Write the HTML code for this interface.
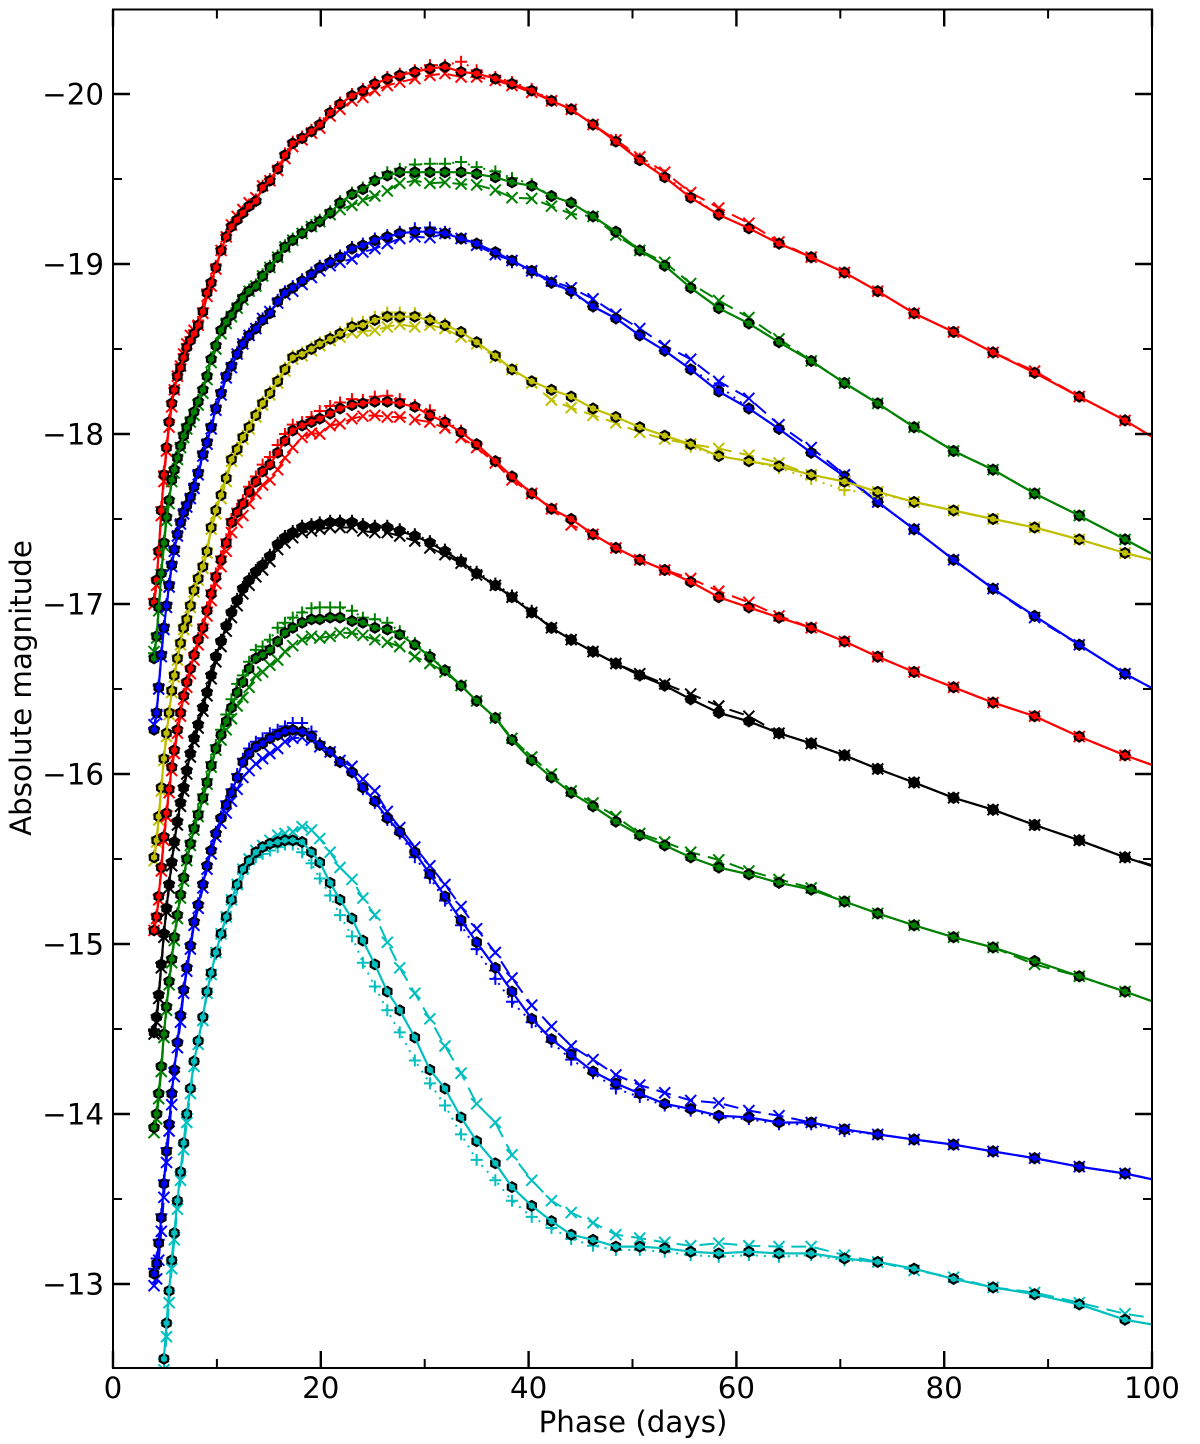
<!DOCTYPE html>
<html lang="en">
<head>
<meta charset="utf-8">
<title>Absolute magnitude light curves</title>
<style>
html,body{margin:0;padding:0;background:#fff;width:1200px;height:1444px;overflow:hidden}
svg{display:block}
text{font-family:"DejaVu Sans","Liberation Sans",sans-serif;fill:#000}
</style>
</head>
<body>
<svg id="chart" xmlns="http://www.w3.org/2000/svg" width="1200" height="1444" viewBox="0 0 1200 1444">
  <defs>
    <clipPath id="plot-clip"><rect x="113" y="9.5" width="1039" height="1358.5"/></clipPath>
  </defs>
  <rect x="0" y="0" width="1200" height="1444" fill="#fff"/>
  <g id="series" clip-path="url(#plot-clip)"></g>
  <g id="ticks"></g>
  <rect x="113" y="9.5" width="1039" height="1358.5" fill="none" stroke="#000" stroke-width="2"/>
  <text x="633" y="1432" font-size="29.3" text-anchor="middle">Phase (days)</text>
  <text transform="translate(31,688) rotate(-90)" font-size="29.3" text-anchor="middle">Absolute magnitude</text>
</svg>
<script>
const phases = [3.95,4.2,4.4,4.65,4.9,5.15,5.4,5.65,5.9,6.2,
6.5,6.8,7.1,7.45,7.8,8.2,8.65,9.05,9.45,9.9,
10.4,10.9,11.4,11.95,12.5,13.1,13.75,14.4,15.1,15.85,
16.55,17.3,18.2,19.1,19.9,20.9,21.85,23.0,24.05,25.2,
26.4,27.6,29.05,30.5,31.95,33.5,35.0,36.8,38.4,40.3,
42.2,44.1,46.2,48.4,50.7,53.1,55.6,58.3,61.2,64.1,
67.2,70.4,73.6,77.1,80.9,84.7,88.7,93.0,97.4,102];

const xTickValues = [0,20,40,60,80,100];
const xMinorValues = [10,30,50,70,90];
const yTickValues = [-20,-19,-18,-17,-16,-15,-14,-13];
const yMinorValues = [-19.5,-18.5,-17.5,-16.5,-15.5,-14.5,-13.5];

const redTopBase = [-17.01,-17.14,-17.31,-17.55,-17.76,-17.92,-18.07,-18.18,-18.26,-18.34,
-18.39,-18.45,-18.51,-18.55,-18.59,-18.64,-18.72,-18.83,-18.89,-18.98,
-19.08,-19.16,-19.22,-19.26,-19.30,-19.34,-19.37,-19.45,-19.49,-19.56,
-19.64,-19.71,-19.74,-19.78,-19.82,-19.89,-19.94,-19.99,-20.02,-20.06,
-20.09,-20.11,-20.13,-20.15,-20.16,-20.13,-20.12,-20.09,-20.06,-20.02,
-19.96,-19.91,-19.82,-19.72,-19.61,-19.51,-19.39,-19.29,-19.21,-19.12,
-19.04,-18.95,-18.84,-18.71,-18.60,-18.48,-18.36,-18.22,-18.08,-17.91];
const redTopCross = [0.01,0.03,0.02,0.03,0.04,0.02,0.03,0.02,0,0,
-0.01,-0.02,-0.02,-0.03,-0.02,0,0.01,0.02,0.02,0.01,
0,0,-0.01,-0.02,-0.02,-0.02,-0.02,-0.01,0,0.01,
0.02,0.02,0.01,0.01,0.02,0.02,0.03,0.03,0.04,0.04,
0.04,0.04,0.04,0.04,0.04,0.03,0.02,0.01,0.01,0.01,
0,0,0,-0.01,-0.02,-0.03,-0.03,-0.04,-0.03,-0.01,
0,0,0,0,0,0,-0.01,0,0,0];
const redTopPlus = [-0.02,-0.01,-0.01,-0.02,-0.02,-0.01,-0.01,-0.01,-0.01,-0.01,
-0.02,-0.02,-0.02,-0.02,-0.02,-0.02,-0.02,-0.02,-0.01,-0.01,
-0.01,-0.01,-0.01,-0.01,-0.01,-0.01,-0.01,-0.01,-0.01,-0.01,
-0.01,-0.01,-0.01,-0.01,-0.01,-0.01,-0.01,-0.01,-0.01,-0.01,
-0.01,-0.01,-0.01,-0.02,-0.01,-0.06,-0.02,-0.01,-0.01,-0.01,
0,0,0,-0.01,-0.01,-0.01,-0.01,0,0,0,
0,0,0,0,0,0,0,0,0,0];

const greenTopBase = [-16.68,-16.81,-16.98,-17.18,-17.36,-17.51,-17.61,-17.73,-17.79,-17.86,
-17.93,-17.99,-18.04,-18.08,-18.13,-18.19,-18.26,-18.34,-18.44,-18.52,
-18.61,-18.66,-18.70,-18.75,-18.80,-18.84,-18.87,-18.93,-18.98,-19.04,
-19.10,-19.14,-19.18,-19.22,-19.25,-19.30,-19.36,-19.41,-19.44,-19.49,
-19.52,-19.54,-19.54,-19.54,-19.54,-19.54,-19.53,-19.51,-19.48,-19.46,
-19.40,-19.36,-19.28,-19.19,-19.08,-18.99,-18.86,-18.74,-18.65,-18.54,
-18.43,-18.30,-18.18,-18.04,-17.90,-17.79,-17.65,-17.52,-17.38,-17.23];
const greenTopCross = [-0.04,0.01,0.02,0.03,0.02,0.02,0.02,0.01,0.02,0.01,
0.01,0.01,0.01,0.01,0.02,0.02,0.02,0.02,0.02,0.02,
0.02,0.01,0.01,0.01,0.01,0,0,0,0,0,
0,0,0,0,0,0.01,0.04,0.065,0.065,0.09,
0.09,0.065,0.05,0.065,0.06,0.07,0.065,0.075,0.09,0.075,
0.06,0.065,0,0.02,0,-0.02,-0.025,-0.045,-0.035,-0.02,
0,0,0,0,0,0,0,0,0,0];
const greenTopPlus = [-0.03,-0.01,-0.01,-0.02,-0.01,-0.01,-0.01,-0.01,-0.01,-0.01,
-0.01,-0.01,-0.01,-0.01,-0.01,-0.01,-0.01,-0.01,-0.01,-0.01,
-0.01,-0.01,-0.01,-0.01,-0.01,-0.01,-0.01,-0.01,-0.01,-0.01,
-0.01,-0.01,-0.01,-0.01,-0.01,-0.01,-0.01,-0.01,-0.01,-0.015,
-0.02,-0.02,-0.045,-0.05,-0.05,-0.06,-0.04,-0.035,-0.025,-0.01,
0,0,0,0,0,0,0,0,0,0,
0,0,0,0,0,0,0,0,0,0];

const blueTopBase = [-16.26,-16.36,-16.51,-16.70,-16.86,-16.99,-17.11,-17.23,-17.32,-17.41,
-17.48,-17.54,-17.58,-17.63,-17.69,-17.77,-17.88,-17.95,-18.04,-18.15,
-18.24,-18.34,-18.40,-18.47,-18.53,-18.58,-18.62,-18.67,-18.71,-18.78,
-18.83,-18.86,-18.90,-18.94,-18.98,-19.01,-19.04,-19.09,-19.11,-19.14,
-19.16,-19.18,-19.19,-19.19,-19.18,-19.15,-19.12,-19.07,-19.02,-18.96,
-18.89,-18.84,-18.75,-18.68,-18.58,-18.49,-18.38,-18.25,-18.15,-18.03,
-17.89,-17.75,-17.60,-17.44,-17.26,-17.09,-16.93,-16.76,-16.59,-16.44];
const blueTopCross = [-0.03,0.01,0.01,0.01,0.01,0.01,0.01,0.01,0.01,0.01,
0.01,0.01,0.01,0.01,0.01,0.01,0.01,0.01,0.01,0.01,
0.01,0.01,0.01,0,0,0,0,-0.01,-0.01,0.01,
0.01,0.02,0.02,0.02,0.02,0.02,0.03,0.06,0.04,0.05,
0.04,0.03,0.03,0.035,0,0,0.01,0.015,0,0,
-0.01,-0.02,-0.045,-0.025,-0.04,-0.03,-0.06,-0.06,-0.06,-0.025,
-0.03,-0.01,0,0,0,0,0.01,0,0,0];
const blueTopPlus = [-0.01,-0.01,-0.01,-0.01,-0.01,-0.01,-0.01,-0.01,-0.01,-0.01,
-0.01,-0.01,-0.01,-0.01,-0.01,-0.01,-0.01,-0.01,-0.01,-0.01,
-0.01,-0.01,-0.01,-0.01,-0.01,-0.01,-0.01,-0.01,-0.01,-0.01,
-0.01,-0.01,-0.01,-0.01,-0.01,-0.01,-0.01,-0.01,-0.01,-0.01,
-0.01,-0.01,-0.02,-0.025,-0.01,0,0,0.01,0.01,0.01,
0,0.01,0,0,0,0,0,-0.035,0,0,
0,0,0,0,0,0,0,0,0,0];

const yellowBase = [-15.51,-15.61,-15.75,-15.92,-16.09,-16.24,-16.36,-16.49,-16.58,-16.68,
-16.77,-16.86,-16.91,-16.99,-17.08,-17.15,-17.22,-17.31,-17.45,-17.55,
-17.64,-17.74,-17.85,-17.91,-17.98,-18.04,-18.11,-18.18,-18.24,-18.31,
-18.38,-18.45,-18.47,-18.50,-18.53,-18.56,-18.59,-18.63,-18.64,-18.67,
-18.69,-18.69,-18.69,-18.67,-18.64,-18.60,-18.54,-18.46,-18.38,-18.31,
-18.26,-18.22,-18.15,-18.10,-18.04,-17.99,-17.94,-17.87,-17.84,-17.81,
-17.76,-17.72,-17.66,-17.60,-17.55,-17.50,-17.45,-17.38,-17.30,-17.23];
const yellowCross = [0.02,0.01,0.02,0.02,0.01,0.02,0.01,0.01,0.01,0.01,
0.01,0.01,0.01,0.01,0.01,0.01,0.01,0.01,0.01,0.02,
0.02,0.02,0.01,0.01,0.01,0.01,0.01,0.01,0.01,0.01,
0.01,0.01,0.01,0.01,0.01,0.01,0.02,0.035,0.035,0.06,
0.06,0.045,0.06,0.03,0.02,0.03,0.01,0.01,0,0.01,
0.06,0.065,0.04,0.035,0.03,0.02,0,-0.045,-0.035,-0.02,
0,0,0,0,0,0,0,0,0,0];
const yellowPlus = [-0.01,-0.01,-0.01,-0.01,-0.01,-0.01,-0.01,-0.01,-0.01,-0.01,
-0.01,-0.01,-0.01,-0.01,-0.01,-0.01,-0.01,-0.01,-0.01,-0.01,
-0.01,-0.01,-0.01,-0.01,-0.01,-0.01,-0.01,-0.01,-0.01,-0.01,
-0.01,-0.01,-0.01,-0.01,-0.01,-0.01,-0.01,-0.02,-0.02,-0.02,
-0.025,-0.025,-0.02,-0.01,-0.01,0,0,0,0,0,
0,0,0,0,0,0,0.015,0,0,0.01,
0.025,0.05,0.01,0,0,0,0,0,0,0];

const redLowBase = [-15.08,-15.16,-15.28,-15.45,-15.63,-15.77,-15.91,-16.04,-16.14,-16.26,
-16.36,-16.46,-16.54,-16.62,-16.70,-16.79,-16.86,-16.96,-17.06,-17.16,
-17.26,-17.36,-17.48,-17.54,-17.59,-17.66,-17.72,-17.78,-17.82,-17.89,
-17.96,-18.02,-18.05,-18.07,-18.09,-18.12,-18.15,-18.17,-18.18,-18.19,
-18.19,-18.18,-18.16,-18.11,-18.07,-18.01,-17.94,-17.84,-17.75,-17.65,
-17.56,-17.50,-17.41,-17.33,-17.26,-17.20,-17.13,-17.04,-16.98,-16.92,
-16.86,-16.78,-16.69,-16.60,-16.51,-16.42,-16.34,-16.22,-16.11,-16.01];
const redLowCross = [0,0.01,0.02,0.02,0.02,0.02,0.02,0.02,0.02,0.02,
0.02,0.02,0.03,0.03,0.03,0.03,0.03,0.03,0.04,0.04,
0.04,0.05,0.06,0.06,0.07,0.07,0.07,0.08,0.09,0.10,
0.10,0.10,0.07,0.065,0.09,0.07,0.09,0.08,0.075,0.08,
0.09,0.08,0.075,0.04,0.035,0.03,0.02,0.01,0.02,0,
0,0.035,0,0,0,0,-0.02,-0.035,-0.03,-0.01,
0,0,0,0,0,0,0,0,0,0];
const redLowPlus = [-0.01,-0.01,-0.01,-0.01,-0.01,-0.01,-0.01,-0.01,-0.01,-0.01,
-0.01,-0.01,-0.01,-0.01,-0.01,-0.01,-0.02,-0.02,-0.02,-0.02,
-0.02,-0.02,-0.02,-0.02,-0.02,-0.03,-0.03,-0.04,-0.045,-0.045,
-0.04,-0.035,-0.02,-0.03,-0.045,-0.045,-0.035,-0.035,-0.02,-0.03,
-0.035,-0.025,-0.01,-0.03,-0.01,-0.01,0,0,0,0,
0,0,0,0,0,0,0,0,0,0,
0,0,0,0,0,0,0,0,0,0];

const blackBase = [-14.48,-14.57,-14.70,-14.88,-15.06,-15.21,-15.35,-15.48,-15.60,-15.72,
-15.83,-15.92,-16.02,-16.12,-16.21,-16.29,-16.39,-16.48,-16.58,-16.69,
-16.78,-16.87,-16.95,-17.02,-17.09,-17.14,-17.19,-17.23,-17.28,-17.35,
-17.39,-17.42,-17.45,-17.46,-17.47,-17.48,-17.48,-17.48,-17.46,-17.45,
-17.45,-17.43,-17.40,-17.36,-17.31,-17.25,-17.18,-17.11,-17.04,-16.95,
-16.86,-16.79,-16.72,-16.65,-16.58,-16.52,-16.44,-16.36,-16.31,-16.24,
-16.18,-16.11,-16.03,-15.95,-15.86,-15.79,-15.70,-15.61,-15.51,-15.42];
const blackCross = [0.01,0.03,0.02,0.02,0.02,0.02,0.02,0.02,0.02,0.02,
0.02,0.02,0.02,0.02,0.02,0.02,0.02,0.02,0.02,0.03,
0.03,0.03,0.03,0.03,0.03,0.03,0.03,0.03,0.03,0.03,
0.03,0.03,0.03,0.03,0.03,0.03,0.03,0.03,0.03,0.03,
0.03,0.03,0.03,0.03,0.02,0.01,0.01,0,0,0,
0,0,0,0,-0.01,-0.01,-0.03,-0.04,-0.03,0,
0,0,0,0,0,0,0,0,0,-0.01];
const blackPlus = [-0.01,-0.01,-0.01,-0.01,-0.01,-0.01,-0.01,-0.01,-0.01,-0.01,
-0.01,-0.01,-0.01,-0.01,-0.01,-0.01,-0.01,-0.01,-0.01,-0.01,
-0.01,-0.01,-0.01,-0.01,-0.01,-0.01,-0.01,-0.01,-0.01,-0.01,
-0.01,-0.01,-0.01,-0.01,-0.01,-0.01,-0.01,-0.01,-0.01,-0.01,
-0.01,-0.01,-0.01,-0.01,-0.01,-0.01,-0.01,-0.01,-0.01,-0.01,
0,0,0,0,0,0,0,0,0,0,
0,0,0,0,0,0,0,0,0,0];

const greenLowBase = [-13.92,-14.00,-14.12,-14.28,-14.47,-14.63,-14.78,-14.91,-15.04,-15.17,
-15.29,-15.39,-15.50,-15.59,-15.68,-15.76,-15.86,-15.95,-16.05,-16.15,
-16.23,-16.31,-16.39,-16.48,-16.54,-16.62,-16.68,-16.70,-16.73,-16.78,
-16.83,-16.86,-16.89,-16.91,-16.91,-16.92,-16.92,-16.90,-16.89,-16.86,
-16.85,-16.82,-16.76,-16.69,-16.61,-16.52,-16.43,-16.33,-16.20,-16.08,
-15.98,-15.89,-15.81,-15.72,-15.64,-15.58,-15.51,-15.45,-15.41,-15.36,
-15.32,-15.25,-15.18,-15.11,-15.04,-14.98,-14.90,-14.81,-14.72,-14.62];
const greenLowCross = [0.03,0.03,0.03,0.03,0.02,0.02,0.02,0.02,0.02,0.02,
0.02,0.02,0.01,0.01,0.01,0.01,0.01,0.01,0.01,0.01,
0.03,0.05,0.065,0.08,0.09,0.11,0.10,0.10,0.09,0.11,
0.11,0.105,0.10,0.10,0.11,0.11,0.09,0.07,0.075,0.07,
0.075,0.07,0.07,0.04,0.01,0,0,0,-0.01,-0.02,
-0.02,-0.01,-0.02,-0.03,-0.01,-0.02,-0.03,-0.045,-0.02,-0.02,
-0.01,0,0,0,0,0,0.02,0,0,0];
const greenLowPlus = [-0.01,-0.01,-0.01,-0.01,-0.01,-0.01,-0.01,-0.01,-0.01,-0.01,
-0.01,-0.01,-0.01,-0.01,-0.01,-0.02,-0.02,-0.02,-0.02,-0.02,
-0.03,-0.04,-0.05,-0.05,-0.04,-0.04,-0.05,-0.05,-0.06,-0.08,
-0.06,-0.06,-0.06,-0.065,-0.07,-0.06,-0.06,-0.06,-0.03,-0.05,
-0.04,-0.02,-0.01,-0.01,0,0,0,0,0,0,
0,0,0,0,0,0,0,0,0,0,
0,0,0,0,0,0,0,0,0,0];

const blueLowBase = [-13.06,-13.12,-13.24,-13.39,-13.59,-13.78,-13.94,-14.12,-14.26,-14.42,
-14.58,-14.73,-14.86,-14.99,-15.13,-15.23,-15.35,-15.46,-15.55,-15.65,
-15.74,-15.82,-15.89,-15.98,-16.07,-16.12,-16.16,-16.18,-16.21,-16.23,
-16.25,-16.26,-16.25,-16.22,-16.17,-16.13,-16.07,-16.01,-15.92,-15.84,
-15.74,-15.66,-15.54,-15.41,-15.28,-15.14,-15.01,-14.86,-14.72,-14.56,
-14.44,-14.35,-14.25,-14.18,-14.12,-14.06,-14.03,-13.99,-13.98,-13.95,
-13.95,-13.91,-13.88,-13.85,-13.82,-13.78,-13.74,-13.69,-13.65,-13.59];
const blueLowCross = [0.07,0.09,0.10,0.08,0.08,0.065,0.04,0.065,0.04,0.03,
0.04,0.02,0.02,0.02,0.02,0.02,0.02,0.02,0.02,0.02,
0.03,0.05,0.05,0.07,0.09,0.10,0.10,0.09,0.09,0.08,
0.06,0.05,0.035,0.02,0.01,0,-0.01,-0.035,-0.05,-0.06,
-0.04,-0.025,-0.03,-0.05,-0.07,-0.08,-0.08,-0.09,-0.08,-0.08,
-0.075,-0.05,-0.07,-0.05,-0.05,-0.065,-0.05,-0.075,-0.04,-0.04,
0,0,0,0,0,0,0,0,0,0];
const blueLowPlus = [-0.03,-0.03,-0.02,-0.02,-0.02,-0.02,-0.01,-0.01,-0.01,-0.01,
-0.01,-0.01,-0.01,-0.01,-0.01,-0.01,-0.01,-0.01,-0.01,-0.01,
-0.01,-0.02,-0.02,-0.02,-0.02,-0.03,-0.03,-0.03,-0.03,-0.03,
-0.03,-0.04,-0.05,-0.03,-0.01,0,0,0,0.01,0.01,
0.01,0.01,0.03,0.02,0.025,0.03,0.04,0.065,0.06,0.02,
0.015,0.03,0.01,0.03,0.02,0.01,0.01,0.01,0.01,0.01,
0.01,0.01,0,0,0,0,0,0,0,0];

const cyanBase = [null,null,null,null,-12.56,-12.77,-12.96,-13.14,-13.30,-13.49,
-13.66,-13.83,-14.00,-14.15,-14.31,-14.43,-14.57,-14.72,-14.83,-14.95,
-15.06,-15.16,-15.26,-15.35,-15.44,-15.49,-15.54,-15.57,-15.59,-15.60,
-15.61,-15.61,-15.60,-15.54,-15.48,-15.36,-15.26,-15.15,-15.02,-14.88,
-14.72,-14.61,-14.45,-14.26,-14.15,-13.98,-13.84,-13.71,-13.57,-13.46,
-13.37,-13.29,-13.26,-13.22,-13.22,-13.21,-13.19,-13.18,-13.19,-13.18,
-13.18,-13.15,-13.13,-13.09,-13.03,-12.98,-12.94,-12.88,-12.79,-12.74];
const cyanCross = [0,0,0,0,0.065,0.08,0.07,0.05,0.04,0.05,
0.05,0.04,0.05,0.03,0.03,0.02,0.02,0.01,0.01,0,
0,0,0,0,0,-0.01,-0.01,-0.01,-0.02,-0.04,
-0.04,-0.05,-0.09,-0.13,-0.14,-0.18,-0.19,-0.23,-0.25,-0.29,
-0.29,-0.25,-0.26,-0.30,-0.25,-0.26,-0.22,-0.24,-0.19,-0.15,
-0.12,-0.13,-0.10,-0.07,-0.05,-0.035,-0.035,-0.06,-0.035,-0.04,
-0.04,-0.02,0,0.01,-0.01,0,-0.01,-0.01,-0.035,-0.04];
const cyanPlus = [0,0,0,0,0,0,0,0,0,0,
0,0,0,0,0,0,0,0,0.01,0.01,
0.01,0.01,0.01,0.02,0.02,0.02,0.03,0.04,0.04,0.03,
0.025,0.025,0.06,0.065,0.095,0.075,0.09,0.105,0.13,0.13,
0.11,0.13,0.135,0.08,0.10,0.10,0.11,0.10,0.08,0.065,
0.04,0.025,0.035,0.02,0.02,0.02,0.02,0.02,0.02,0.02,
0.01,0.01,0,0,0,0,0,0,0,0];

const NS = 'http://www.w3.org/2000/svg';
function xScale(phase){ return 113 + phase * 10.39; }
function yScale(mag){ return 94 + (mag + 20) * 170; }

const seriesLayer = document.getElementById('series');
const tickLayer = document.getElementById('ticks');

function addCurve(parent, base, offset, color, width, dash){
  const pts = [];
  base.forEach(function(m, i){
    if (m === null) return;
    pts.push(xScale(phases[i]).toFixed(2) + ',' + yScale(m + offset[i]).toFixed(2));
  });
  const line = document.createElementNS(NS, 'polyline');
  line.setAttribute('points', pts.join(' '));
  line.setAttribute('fill', 'none');
  line.setAttribute('stroke', color);
  line.setAttribute('stroke-width', width);
  line.setAttribute('stroke-linejoin', 'round');
  if (dash) line.setAttribute('stroke-dasharray', dash);
  parent.appendChild(line);
  return line;
}

function hexPoints(cx, cy, r){
  const out = [];
  for (let k = 0; k < 6; k++){
    const a = Math.PI / 2 + k * Math.PI / 3;
    out.push((cx + r * Math.cos(a)).toFixed(2) + ',' + (cy + r * Math.sin(a)).toFixed(2));
  }
  return out.join(' ');
}

function drawBand(label, color, base, cross, plus){
  const group = document.createElementNS(NS, 'g');
  
  
  seriesLayer.appendChild(group);

  const dashed = addCurve(group, base, cross, color, 2, '15 8');
  
  

  const dotted = addCurve(group, base, plus, color, 2, '2 6');
  
  

  base.forEach(function(m, i){
    if (m === null) return;
    const cx = xScale(phases[i]);
    const yc = yScale(m + cross[i]);
    const xMark = document.createElementNS(NS, 'path');
    
    
    xMark.setAttribute('d', 'M' + (cx-5.5) + ' ' + (yc-5.5) + 'L' + (cx+5.5) + ' ' + (yc+5.5) + 'M' + (cx-5.5) + ' ' + (yc+5.5) + 'L' + (cx+5.5) + ' ' + (yc-5.5));
    xMark.setAttribute('stroke', color);
    xMark.setAttribute('stroke-width', '2');
    xMark.setAttribute('fill', 'none');
    group.appendChild(xMark);

    const yp = yScale(m + plus[i]);
    const plusMark = document.createElementNS(NS, 'path');
    
    
    plusMark.setAttribute('d', 'M' + (cx-6) + ' ' + yp + 'L' + (cx+6) + ' ' + yp + 'M' + cx + ' ' + (yp-6) + 'L' + cx + ' ' + (yp+6));
    plusMark.setAttribute('stroke', color);
    plusMark.setAttribute('stroke-width', '2');
    plusMark.setAttribute('fill', 'none');
    group.appendChild(plusMark);
  });

  base.forEach(function(m, i){
    if (m === null) return;
    const hex = document.createElementNS(NS, 'polygon');
    
    
    hex.setAttribute('points', hexPoints(xScale(phases[i]), yScale(m), 4.8));
    hex.setAttribute('fill', color);
    hex.setAttribute('stroke', '#000');
    hex.setAttribute('stroke-width', '2.2');
    group.appendChild(hex);
  });

  const zeros = base.map(function(){ return 0; });
  const solid = addCurve(group, base, zeros, color, 2.2, null);
  
  
}

drawBand('red-top', '#ff0000', redTopBase, redTopCross, redTopPlus);
drawBand('green-top', '#008000', greenTopBase, greenTopCross, greenTopPlus);
drawBand('blue-top', '#0000ff', blueTopBase, blueTopCross, blueTopPlus);
drawBand('yellow', '#bfbf00', yellowBase, yellowCross, yellowPlus);
drawBand('red-low', '#ff0000', redLowBase, redLowCross, redLowPlus);
drawBand('black', '#000000', blackBase, blackCross, blackPlus);
drawBand('green-low', '#008000', greenLowBase, greenLowCross, greenLowPlus);
drawBand('blue-low', '#0000ff', blueLowBase, blueLowCross, blueLowPlus);
drawBand('cyan', '#00bfbf', cyanBase, cyanCross, cyanPlus);

function addTick(x1, y1, x2, y2, width, name){
  const t = document.createElementNS(NS, 'line');
  
  
  t.setAttribute('x1', x1);
  t.setAttribute('y1', y1);
  t.setAttribute('x2', x2);
  t.setAttribute('y2', y2);
  t.setAttribute('stroke', '#000');
  t.setAttribute('stroke-width', width);
  tickLayer.appendChild(t);
}

const TOP = 9.5, BOTTOM = 1368, LEFT = 113, RIGHT = 1152;

xTickValues.forEach(function(v){
  const x = xScale(v);
  addTick(x, BOTTOM, x, BOTTOM - 17, 2.4, 'x-major-tick');
  addTick(x, TOP, x, TOP + 17, 2.4, 'x-major-tick-top');
  const label = document.createElementNS(NS, 'text');
  
  
  label.setAttribute('x', x);
  label.setAttribute('y', 1398);
  label.setAttribute('font-size', '29.3');
  label.setAttribute('text-anchor', 'middle');
  label.textContent = String(v);
  tickLayer.appendChild(label);
});
xMinorValues.forEach(function(v){
  const x = xScale(v);
  addTick(x, BOTTOM, x, BOTTOM - 9, 2, 'x-minor-tick');
  addTick(x, TOP, x, TOP + 9, 2, 'x-minor-tick-top');
});
yTickValues.forEach(function(v){
  const y = yScale(v);
  addTick(LEFT, y, LEFT + 17, y, 2.4, 'y-major-tick');
  addTick(RIGHT, y, RIGHT - 17, y, 2.4, 'y-major-tick-right');
  const label = document.createElementNS(NS, 'text');
  
  
  label.setAttribute('x', 104);
  label.setAttribute('y', y + 10.5);
  label.setAttribute('font-size', '29.3');
  label.setAttribute('text-anchor', 'end');
  label.textContent = '\u2212' + Math.abs(v);
  tickLayer.appendChild(label);
});
yMinorValues.forEach(function(v){
  const y = yScale(v);
  addTick(LEFT, y, LEFT + 9, y, 2, 'y-minor-tick');
  addTick(RIGHT, y, RIGHT - 9, y, 2, 'y-minor-tick-right');
});
</script>
</body>
</html>
